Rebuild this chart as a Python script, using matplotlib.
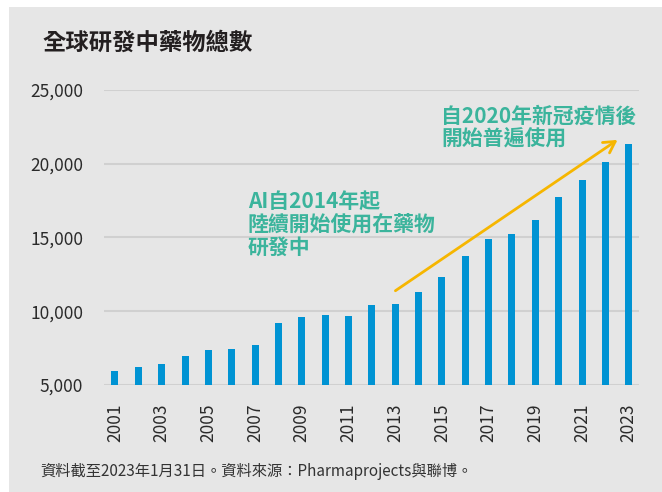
import numpy as np
import matplotlib.pyplot as plt
from matplotlib.patches import Rectangle

plt.rcParams['font.family'] = ['Noto Sans CJK TC', 'DejaVu Sans']

# data
years = list(range(2001, 2024))
drugs = [5970, 6200, 6425, 6990, 7375, 7420, 7715, 9225, 9615, 9730,
         9700, 10450, 10500, 11310, 12330, 13750, 14885, 15270, 16170,
         17740, 18870, 20140, 21310]
yticks = [5000, 10000, 15000, 20000, 25000]
xticks = years[::2]

title = "全球研發中藥物總數"
note_ai = "AI自2014年起\n陸續開始使用在藥物\n研發中"
note_covid = "自2020年新冠疫情後\n開始普遍使用"
footer = "資料截至2023年1月31日。資料來源：Pharmaprojects與聯博。"

bar_col = "#0093d3"
teal = "#3bb49c"
arrow_col = "#f6b600"
bg = "#e6e6e6"

fig = plt.figure(figsize=(6.62, 4.92), dpi=100, facecolor="white")
fig.patches.append(Rectangle((9/662, 0), 1, 485/492, transform=fig.transFigure,
                             facecolor=bg, edgecolor="none", zorder=-10))

ax = fig.add_axes([104/662, 107/492, 535/662, 295/492])
ax.set_facecolor("none")
ax.bar(years, drugs, width=0.3, color=bar_col, zorder=3)
ax.set_ylim(5000, 25000)
ax.set_xlim(2000.53, 2023.44)
ax.set_yticks(yticks)
ax.set_yticklabels([f"{v:,}" for v in yticks])
ax.set_xticks(xticks)
ax.set_xticklabels([str(y) for y in xticks], rotation=90)
ax.grid(axis="y", color="#d0d0d0", linewidth=1.5, zorder=1)
ax.set_axisbelow(True)
ax.tick_params(length=0, labelsize=12.5, labelcolor="#2a2a2a")
ax.tick_params(axis="y", pad=15)
ax.tick_params(axis="x", pad=13)
for s in ax.spines.values():
    s.set_visible(False)

# trend arrow
ax.annotate("", xy=(2022.62, 21725), xytext=(2012.91, 11285),
            arrowprops=dict(arrowstyle="->,head_length=0.8,head_width=0.45",
                            color=arrow_col, lw=2), zorder=4)

ax.text(2006.69, 18150, note_ai, color=teal, fontsize=15, fontweight="bold",
        va="top", ha="left", linespacing=1.1)
ax.text(2014.98, 23950, note_covid, color=teal, fontsize=15, fontweight="bold",
        va="top", ha="left", linespacing=1.1)

fig.text(43/662, 1 - 43/492, title, fontsize=16.8, fontweight="bold",
         color="#231f20", va="center", ha="left")
fig.text(40/662, 1 - 471/492, footer, fontsize=11, color="#333333",
         va="center", ha="left")

fig.savefig("out.png", dpi=100, facecolor="white")
